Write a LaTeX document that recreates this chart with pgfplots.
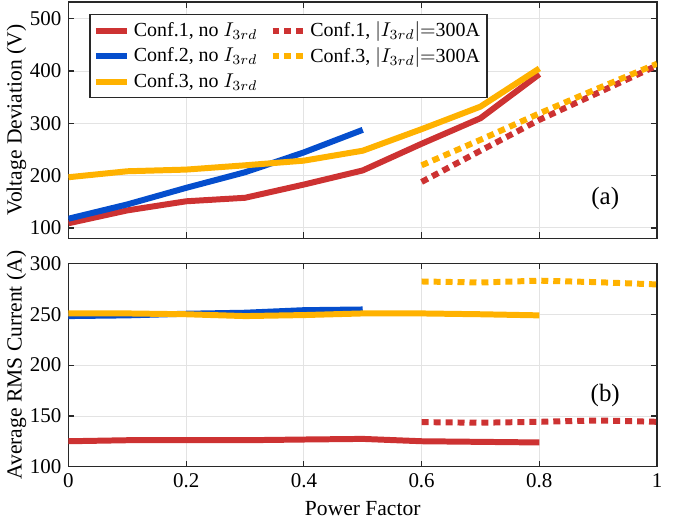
\documentclass[border=0pt]{standalone}
\usepackage{fontspec}
\setmainfont{Liberation Serif}
\usepackage{pgfplots}
\pgfplotsset{compat=1.18}
\definecolor{cred}{RGB}{205,50,50}
\definecolor{cblue}{RGB}{5,78,205}
\definecolor{cyel}{RGB}{255,178,0}
\definecolor{axcol}{RGB}{40,40,40}
\pgfplotsset{
  pfbase/.style={scale only axis,width=295pt,xmin=0,xmax=1,
    xtick={0,0.2,0.4,0.6,0.8,1},
    grid=major,grid style={gray!22,line width=0.5pt},
    axis line style={axcol,line width=0.6pt},
    major tick style={axcol,line width=0.6pt},major tick length=3pt,
    tick label style={font=\fontsize{10.5}{11}\selectfont},
    label style={font=\fontsize{10.8}{12}\selectfont},
    /pgf/number format/assume math mode=true,
    ylabel style={yshift=-5pt},
  },
  solidl/.style={line width=3pt,line join=round},
  dotl/.style={line width=3pt,dash pattern=on 3.5pt off 2.5pt,line cap=butt},
}
\begin{document}
\begin{tikzpicture}
\begin{axis}[pfbase,name=top,height=118.5pt,
  ymin=80,ymax=532,ytick={100,200,300,400,500},xticklabels={},
  ylabel={Voltage Deviation (V)},
  legend columns=2,
  legend image code/.code={\draw[#1] (0pt,0pt) -- (15.5pt,0pt);},
  legend style={at={(0,1)},anchor=north west,xshift=10.5pt,yshift=-6pt,
    draw=axcol,line width=0.6pt,fill=white,
    font=\fontsize{10}{11.5}\selectfont,inner sep=1.5pt,
    /tikz/every even column/.append style={column sep=4pt},
    row sep=0pt,cells={anchor=west}},
  legend cell align=left]
\addlegendimage{cred,solidl}\addlegendentry{Conf.1, no $I_{3rd}$}
\addlegendimage{cred,dotl}\addlegendentry{Conf.1, $|I_{3rd}|{=}$300A}
\addlegendimage{cblue,solidl}\addlegendentry{Conf.2, no $I_{3rd}$}
\addlegendimage{cyel,dotl}\addlegendentry{Conf.3, $|I_{3rd}|{=}$300A}
\addlegendimage{cyel,solidl}\addlegendentry{Conf.3, no $I_{3rd}$}
\addplot[cred,solidl,forget plot] coordinates {(0,109) (0.1,133.6) (0.2,151) (0.3,157.7) (0.4,183) (0.5,210) (0.6,261) (0.7,309.8) (0.8,394)};
\addplot[cblue,solidl,forget plot] coordinates {(0,117.7) (0.1,145) (0.2,176.7) (0.3,206.5) (0.4,244.5) (0.5,287.6)};
\addplot[cyel,solidl,forget plot] coordinates {(0,197) (0.1,208.4) (0.2,211.6) (0.3,219.8) (0.4,228.7) (0.5,247.7) (0.6,288.9) (0.7,332) (0.8,405)};
\addplot[cred,dotl,forget plot] coordinates {(0.6,188) (0.7,247.7) (0.8,306.7) (0.9,358.6) (1,410.6)};
\addplot[cyel,dotl,forget plot] coordinates {(0.6,219.8) (0.7,268.6) (0.8,319) (0.9,367) (1,414)};
\node[font=\fontsize{12.5}{13}\selectfont] at (rel axis cs:0.912,0.17) {(a)};
\end{axis}
\begin{axis}[pfbase,at={(top.south west)},anchor=north west,yshift=-12.5pt,
  height=102pt,ymin=100,ymax=300,ytick={100,150,200,250,300},
  xlabel={Power Factor},ylabel={Average RMS Current (A)}]
\addplot[cred,solidl] coordinates {(0,125.2) (0.1,126.2) (0.2,126.2) (0.3,126.2) (0.4,126.9) (0.5,127.5) (0.6,125.2) (0.7,124.6) (0.8,124)};
\addplot[cblue,solidl] coordinates {(0,248.2) (0.1,248.9) (0.2,250.5) (0.3,251.5) (0.4,254) (0.5,254.7)};
\addplot[cyel,solidl] coordinates {(0,250.8) (0.1,250.8) (0.2,250) (0.3,248.2) (0.4,249.2) (0.5,250.8) (0.6,250.8) (0.7,250) (0.8,248.9)};
\addplot[cred,dotl] coordinates {(0.6,144) (0.7,143.4) (0.8,144.3) (0.9,145.6) (1,144.3)};
\addplot[cyel,dotl] coordinates {(0.6,282.2) (0.7,281.2) (0.8,283) (0.9,281.5) (1,279.3)};
\node[font=\fontsize{12.5}{13}\selectfont] at (rel axis cs:0.912,0.35) {(b)};
\end{axis}
\path ([xshift=-33.5pt,yshift=1pt]top.north west) rectangle ([xshift=305pt,yshift=-259.5pt]top.north west);
\end{tikzpicture}
\end{document}
